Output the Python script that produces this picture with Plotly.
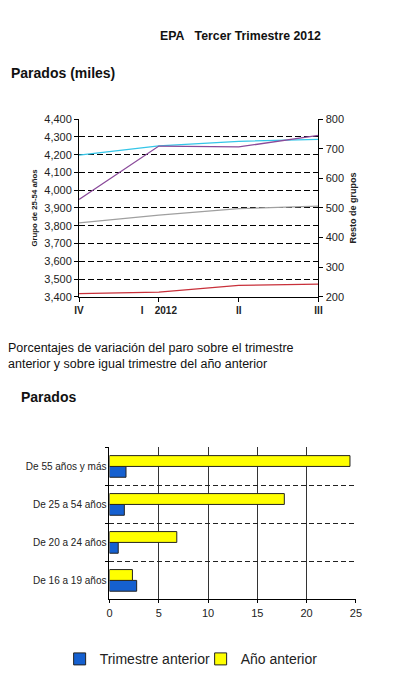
import plotly.graph_objects as go

# ---- Line chart data (Parados, miles) ----
trimestres = ["IV", "I\u00a0\u00a0\u00a0\u00a02012", "II", "III"]
grupo_25_54 = [4197, 4249, 4275, 4286]     # left axis
grupo_20_24 = [529, 709, 706, 745]         # right axis
grupo_55_mas = [450, 476, 498, 506]        # right axis
grupo_16_19 = [211, 216, 239, 243]         # right axis

# ---- Bar chart data (% variación) ----
grupos = ["De 16 a 19 años", "De 20 a 24 años", "De 25 a 54 años", "De 55 años y más"]
trimestre_anterior = [2.76, 0.89, 1.51, 1.68]
anio_anterior = [2.33, 6.83, 17.74, 24.4]

FONT = "Liberation Sans, Arial, sans-serif"
OFF = 8            # page body margin
W, H = 400 - 2 * OFF, 682 - OFF

def px_x(v):
    return (v - OFF) / W

def px_y(v):
    return 1 - (v - OFF) / H

fig = go.Figure()

fig.add_trace(go.Scatter(x=trimestres, y=grupo_25_54, mode="lines",
                         line=dict(color="#35C6E8", width=1.3),
                         xaxis="x", yaxis="y", showlegend=False))
fig.add_trace(go.Scatter(x=trimestres, y=grupo_20_24, mode="lines",
                         line=dict(color="#8A4A9A", width=1.3),
                         xaxis="x", yaxis="y2", showlegend=False))
fig.add_trace(go.Scatter(x=trimestres, y=grupo_55_mas, mode="lines",
                         line=dict(color="#A0A0A0", width=1.3),
                         xaxis="x", yaxis="y2", showlegend=False))
fig.add_trace(go.Scatter(x=trimestres, y=grupo_16_19, mode="lines",
                         line=dict(color="#C8303A", width=1.3),
                         xaxis="x", yaxis="y2", showlegend=False))

fig.add_trace(go.Bar(y=grupos, x=trimestre_anterior, orientation="h",
                     name="Trimestre anterior",
                     marker=dict(color="#1560D0", line=dict(color="#222", width=1)),
                     xaxis="x3", yaxis="y3"))
fig.add_trace(go.Bar(y=grupos, x=anio_anterior, orientation="h",
                     name="Año anterior",
                     marker=dict(color="#FFFF00", line=dict(color="#222", width=1)),
                     xaxis="x3", yaxis="y3"))

tickf = dict(family=FONT, size=11, color="#222")

fig.update_layout(
    width=W, height=H,
    margin=dict(l=0, r=0, t=0, b=0),
    paper_bgcolor="white", plot_bgcolor="white",
    font=dict(family=FONT, color="#222"),
    barmode="group", bargap=0.43, bargroupgap=0,
    xaxis=dict(domain=[px_x(76), px_x(322.5)], anchor="y",
               type="category", range=[0, 3],
               showline=True, linecolor="black", linewidth=1,
               ticks="outside", ticklen=4, tickcolor="black",
               showgrid=False, zeroline=False,
               tickfont=dict(family=FONT, size=10, color="#222"),
               tickprefix="<b>", ticksuffix="</b>"),
    yaxis=dict(domain=[px_y(296), px_y(115)], anchor="x",
               range=[3400, 4400], dtick=100, tickformat=",",
               showline=True, linecolor="black", linewidth=1,
               ticks="outside", ticklen=4, tickcolor="black",
               showgrid=True, gridcolor="black", gridwidth=1, griddash="6px,3px",
               zeroline=False, tickfont=tickf,
               title=dict(text="<b>Grupo de 25-54 años</b>",
                          font=dict(family=FONT, size=7.8, color="#222"),
                          standoff=5)),
    yaxis2=dict(overlaying="y", side="right", anchor="x",
                range=[200, 800], dtick=100,
                showline=True, linecolor="black", linewidth=1,
                ticks="outside", ticklen=4, tickcolor="black",
                showgrid=False, zeroline=False, tickfont=tickf,
                title=dict(text="<b>Resto de grupos</b>",
                           font=dict(family=FONT, size=9, color="#222"),
                           standoff=6)),
    xaxis3=dict(domain=[px_x(107.3), px_x(361)], anchor="y3",
                range=[0, 25], dtick=5,
                showline=True, linecolor="black", linewidth=1,
                ticks="outside", ticklen=3, tickcolor="black",
                showgrid=True, gridcolor="#333", gridwidth=1,
                zeroline=False, tickfont=tickf),
    yaxis3=dict(domain=[px_y(604), px_y(449.3)], anchor="x3",
                type="category", range=[-0.5, 3.5],
                tickson="boundaries",
                showline=True, linecolor="black", linewidth=1,
                ticks="outside", ticklen=3, tickcolor="black",
                showgrid=True, gridcolor="#222", gridwidth=1, griddash="5px,3px",
                zeroline=False,
                tickfont=dict(family=FONT, size=10, color="#222")),
    legend=dict(orientation="h", x=px_x(56), xanchor="left",
                y=px_y(665), yanchor="middle",
                font=dict(family=FONT, size=14, color="#222"),
                itemwidth=30, entrywidth=96, entrywidthmode="pixels",
                traceorder="normal", bgcolor="rgba(0,0,0,0)"),
)

annots = [
    ("<b>EPA\u00a0\u00a0\u00a0Tercer Trimestre 2012</b>", 161, 30, 12.3),
    ("<b>Parados (miles)</b>", 8, 68, 14),
    ("Porcentajes de variación del paro sobre el trimestre<br>"
     "anterior y sobre igual trimestre del año anterior", 5, 356.5, 12.5),
    ("<b>Parados</b>", 18, 398, 14),
]
for text, x, y, size in annots:
    fig.add_annotation(text=text,
                       x=px_x(x - 4), y=px_y(y),
                       xref="paper", yref="paper",
                       xanchor="left", yanchor="middle", align="left",
                       showarrow=False,
                       font=dict(family=FONT, size=size, color="#111"))

fig.write_html("out.html")
